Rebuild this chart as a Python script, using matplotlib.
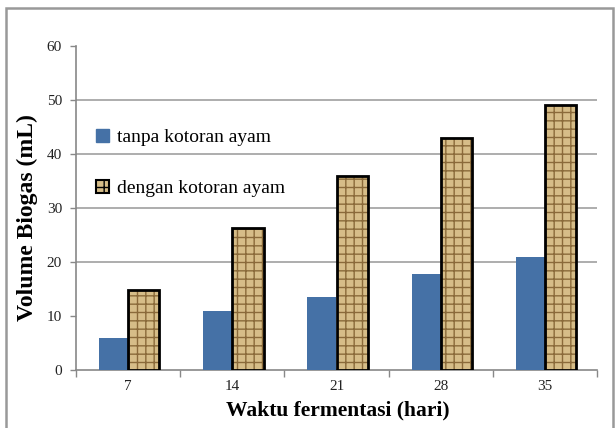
import matplotlib
matplotlib.use("Agg")
import matplotlib.pyplot as plt
from matplotlib.patches import Patch, Rectangle
import numpy as np

categories = ["7", "14", "21", "28", "35"]
tanpa = [6.0, 10.9, 13.6, 17.8, 20.9]
dengan = [14.8, 26.3, 36.0, 43.0, 49.0]
series_labels = ["tanpa kotoran ayam", "dengan kotoran ayam"]
yticks = [0, 10, 20, 30, 40, 50, 60]

plt.rcParams['font.family'] = ['Liberation Serif', 'DejaVu Serif']
plt.rcParams['hatch.linewidth'] = 1.0

blue = '#4571a6'
tan = '#d6bd88'
hatch_col = '#8a6a3a'

fig = plt.figure(figsize=(6.15, 4.28), dpi=100)
W, H = 615, 428
ax = fig.add_axes([76 / W, 1 - 370 / H, 521 / W, 324 / H])

x = np.arange(len(categories))
wb = 0.28
wg = 0.30
ax.bar(x - wb / 2, tanpa, width=wb, color=blue, zorder=3)
ax.bar(x + wg / 2, dengan, width=wg, facecolor=tan, edgecolor=hatch_col,
       hatch='++', linewidth=0, zorder=3)
ax.bar(x + wg / 2, dengan, width=wg, fill=False, edgecolor='black',
       linewidth=2, zorder=4)

ax.set_xlim(-0.5, len(categories) - 0.5)
ax.set_ylim(0, 60)
ax.set_yticks(yticks)
ax.set_yticklabels([str(v) for v in yticks], fontsize=11, color='#222222')
ax.set_xticks(x)
ax.set_xticklabels(categories, fontsize=11, color='#222222')
ax.tick_params(axis='x', length=0, pad=7)
ax.set_xticks(np.arange(-0.5, len(categories)), minor=True)
ax.tick_params(axis='x', which='minor', length=5, color='#888888', width=1)
ax.tick_params(axis='y', length=4, color='#888888', width=1, pad=6)

for v in [20, 30, 40, 50]:
    ax.axhline(v, color='#a0a0a0', linewidth=1.2, zorder=1)

for s in ['top', 'right']:
    ax.spines[s].set_visible(False)
for s in ['left', 'bottom']:
    ax.spines[s].set_color('#888888')
    ax.spines[s].set_linewidth(1.2)

ax.set_xlabel("Waktu fermentasi (hari)", fontsize=15.5, fontweight='bold')
ax.xaxis.set_label_coords(0.503, -0.095)
ax.set_ylabel("Volume Biogas (mL)", fontsize=17, fontweight='bold')
ax.yaxis.set_label_coords(-0.072, 0.47)

handles = [Patch(facecolor=blue, edgecolor=blue),
           Patch(facecolor=tan, edgecolor='black', linewidth=1.5, hatch='++')]
leg = ax.legend(handles, series_labels, loc='upper left',
                bbox_to_anchor=(0.02, 0.775), frameon=False, fontsize=14,
                handlelength=0.65, handleheight=0.65, handletextpad=0.4,
                labelspacing=1.75, borderpad=0)

fig.patches.append(Rectangle((6 / W, -0.02), 607 / W, 1 - 8 / H + 0.02,
                             transform=fig.transFigure, fill=False,
                             edgecolor='#999999', linewidth=1.8))

fig.savefig("out.png", dpi=100)
